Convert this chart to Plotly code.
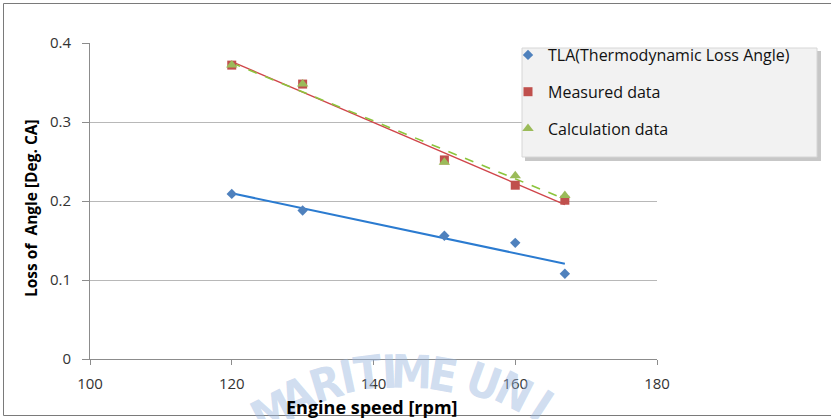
import numpy as np
import plotly.graph_objects as go

# Engine speed [rpm] and loss of angle [deg CA]
engine_speed = [120, 130, 150, 160, 167]
tla_values = [0.209, 0.188, 0.156, 0.147, 0.108]
measured_values = [0.372, 0.348, 0.252, 0.220, 0.201]
calculated_values = [0.372, 0.348, 0.249, 0.232, 0.207]

series_names = ["TLA(Thermodynamic Loss Angle)", "Measured data", "Calculation data"]
x_ticks = [100, 120, 140, 160, 180]
y_ticks = [0, 0.1, 0.2, 0.3, 0.4]

watermark_letters = list("MARITIMEUNI")

# page geometry (px)
W, H = 831, 419
L, R, T, B = 90, 174, 43, 60
PW, PH = W - L - R, H - T - B


def px_x(p):
    return (p - L) / PW


def px_y(p):
    return (H - B - p) / PH


FONT = "Open Sans, DejaVu Sans, sans-serif"
fig = go.Figure()

# linear trendlines for each series
trend_styles = [
    dict(color="#2b7bd0", width=2),
    dict(color="#d0454a", width=1.3),
    dict(color="#8cc43c", width=1.6, dash="dash"),
]
for vals, style in zip([tla_values, measured_values, calculated_values], trend_styles):
    k, c = np.polyfit(engine_speed, vals, 1)
    xs = np.array([min(engine_speed), max(engine_speed)])
    fig.add_trace(go.Scatter(x=xs, y=k * xs + c, mode="lines", line=style,
                             showlegend=False, hoverinfo="skip"))

marker_styles = [
    dict(symbol="diamond", size=8, color="#4f81bd"),
    dict(symbol="square", size=9, color="#c0504d"),
    dict(symbol="triangle-up", size=10, color="#9bbb59"),
]
for i, (name, vals, mk) in enumerate(zip(series_names,
                                         [tla_values, measured_values, calculated_values],
                                         marker_styles)):
    fig.add_trace(go.Scatter(x=engine_speed, y=vals, mode="markers", name=name,
                             marker=mk, legendgroup=f"g{i}"))

shapes = [
    # outer chart border
    dict(type="rect", xref="paper", yref="paper",
         x0=px_x(3.5), x1=px_x(840), y0=px_y(415.5), y1=px_y(3.5),
         line=dict(color="#7a7a7a", width=1), fillcolor="rgba(0,0,0,0)", layer="below"),
    # legend shadow and panel
    dict(type="rect", xref="paper", yref="paper",
         x0=px_x(525), x1=px_x(821), y0=px_y(161), y1=px_y(51),
         line=dict(width=0), fillcolor="rgba(0,0,0,0.22)", layer="above"),
    dict(type="rect", xref="paper", yref="paper",
         x0=px_x(522), x1=px_x(817), y0=px_y(157), y1=px_y(48),
         line=dict(color="#d6d6d6", width=1), fillcolor="#f2f2f2", layer="above"),
]

annotations = []
# arched watermark letters: centre (px) and tilt for each glyph
wm_centres = [(272, 412), (297, 396), (326, 384), (347, 377), (368, 373), (389, 372),
              (411, 372), (443, 375), (484, 382), (514, 392), (541, 406)]
wm_tilts = [-27, -22, -17, -12, -7, -3, 2, 10, 20, 27, 33]
for ch, (wx, wy), a in zip(watermark_letters, wm_centres, wm_tilts):
    annotations.append(dict(
        x=px_x(wx), y=px_y(wy), xref="paper", yref="paper", text=ch,
        showarrow=False, textangle=a, xanchor="center", yanchor="middle",
        font=dict(family="DejaVu Sans Condensed, sans-serif",
                  size=46, color="rgba(150,180,222,0.45)", weight="bold")))

# axis titles
annotations.append(dict(x=px_x(372), y=px_y(407), xref="paper", yref="paper",
                        text="Engine speed [rpm]", showarrow=False,
                        xanchor="center", yanchor="middle",
                        font=dict(family=FONT, size=18, color="#000", weight="bold")))
annotations.append(dict(x=px_x(31), y=px_y(208), xref="paper", yref="paper",
                        text="Loss of  Angle [Deg. CA]", showarrow=False, textangle=-90,
                        xanchor="center", yanchor="middle",
                        font=dict(family=FONT, size=15.5, color="#000", weight="bold")))

fig.update_layout(
    width=W, height=H,
    margin=dict(l=L, r=R, t=T, b=B),
    paper_bgcolor="white", plot_bgcolor="white",
    showlegend=True,
    legend=dict(x=px_x(508), y=px_y(38), xanchor="left", yanchor="top",
                bgcolor="rgba(0,0,0,0)", borderwidth=0, itemwidth=30,
                traceorder="grouped", tracegroupgap=13,
                font=dict(family=FONT, size=16, color="#111")),
    shapes=shapes,
    annotations=annotations,
    xaxis=dict(range=[100, 180], tickvals=x_ticks, ticktext=[str(v) for v in x_ticks],
               showgrid=False, zeroline=False, showline=True, linecolor="#8c8c8c",
               ticks="outside", ticklen=5, tickcolor="#8c8c8c", ticklabelstandoff=6,
               tickfont=dict(family=FONT, size=15, color="#333")),
    yaxis=dict(range=[0, 0.4], tickvals=y_ticks, ticktext=["0", "0.1", "0.2", "0.3", "0.4"],
               showgrid=True, gridcolor="#b8b8b8", gridwidth=1, zeroline=False,
               showline=True, linecolor="#8c8c8c",
               ticks="outside", ticklen=7, tickcolor="#8c8c8c", ticklabelstandoff=8,
               tickfont=dict(family=FONT, size=15, color="#333")),
)

fig.write_html("out.html")
